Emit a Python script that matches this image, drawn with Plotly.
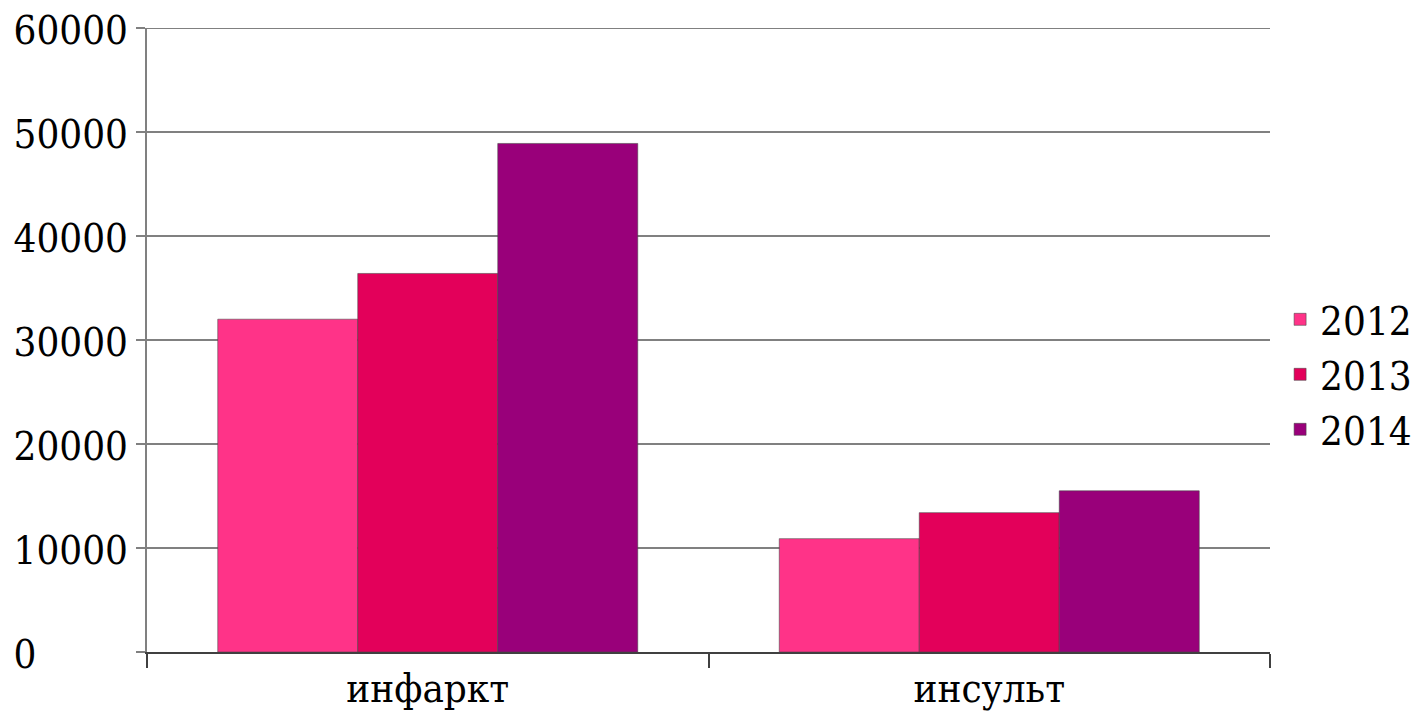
import plotly.graph_objects as go

categories = ["инфаркт", "инсульт"]
years = ["2012", "2013", "2014"]
values_2012 = [32000, 10900]
values_2013 = [36400, 13400]
values_2014 = [48900, 15500]
colors = ["#FF3388", "#E3005A", "#99007A"]
y_ticks = [0, 10000, 20000, 30000, 40000, 50000, 60000]

SERIF = "DejaVu Serif Condensed, DejaVu Serif"
FS = 40

# labels are left-aligned in the reference: pad with figure spaces
width = max(len(str(v)) for v in y_ticks)
y_ticktext = [str(v).ljust(width, "\u2007") for v in y_ticks]

fig = go.Figure()
for name, vals, col in zip(years, [values_2012, values_2013, values_2014], colors):
    fig.add_trace(go.Bar(
        x=categories, y=vals, name=name,
        marker=dict(color=col, line=dict(color="rgba(70,70,70,0.55)", width=1)),
    ))

# top gridline at the axis maximum
fig.add_shape(type="line", xref="paper", yref="y", x0=0, x1=1, y0=y_ticks[-1], y1=y_ticks[-1],
              line=dict(color="#808080", width=2), layer="below")

fig.update_layout(
    width=1412, height=712,
    barmode="group", bargap=0.252, bargroupgap=0,
    paper_bgcolor="white", plot_bgcolor="white",
    margin=dict(l=139, r=150, t=20, b=68, autoexpand=False),
    font=dict(family=SERIF, size=FS, color="black"),
    showlegend=True,
    legend=dict(
        x=1.009, xanchor="left", y=0.445, yanchor="middle",
        font=dict(size=FS, family=SERIF, color="black"),
        itemwidth=30, tracegroupgap=0, bgcolor="rgba(0,0,0,0)",
    ),
    xaxis=dict(
        type="category", automargin=False,
        showline=True, linecolor="#404040", linewidth=2,
        ticks="outside", tickson="boundaries", ticklen=14, tickwidth=2, tickcolor="#404040",
        showgrid=False, tickfont=dict(size=FS, family=SERIF),
    ),
    yaxis=dict(
        range=[0, 60000], tickvals=y_ticks, ticktext=y_ticktext,
        automargin=False, ticklabeloverflow="allow", ticklabelshift=2,
        showline=True, linecolor="#808080", linewidth=2,
        ticks="outside", ticklen=9, tickwidth=2, tickcolor="#808080",
        showgrid=True, gridcolor="#808080", gridwidth=2,
        zeroline=False, tickfont=dict(size=FS, family=SERIF),
    ),
)

fig.write_html("out.html")
